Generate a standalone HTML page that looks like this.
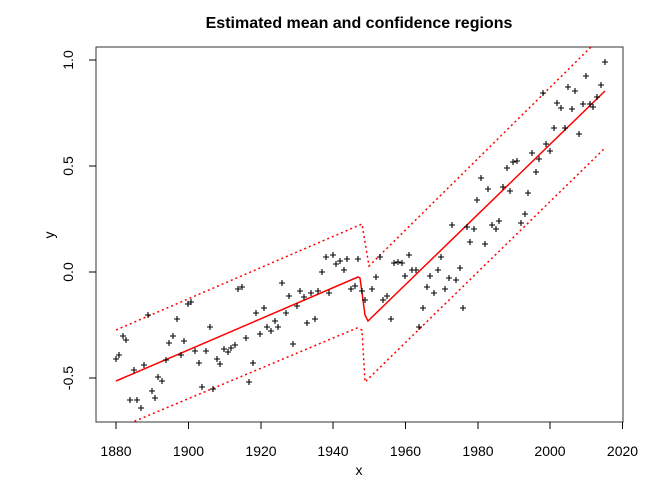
<!DOCTYPE html>
<html><head><style>body{margin:0;background:#fff}svg{display:block}</style></head><body>
<svg width="672" height="480" xmlns="http://www.w3.org/2000/svg" font-family="Liberation Sans, Arial, sans-serif">
<rect width="672" height="480" fill="#fff"/>
<text x="359" y="28" font-size="16" font-weight="bold" text-anchor="middle">Estimated mean and confidence regions</text>
<rect x="96" y="47" width="527" height="375" fill="none" stroke="#333" stroke-width="1"/>
<g stroke="#000" stroke-width="1">
<line x1="116" y1="422" x2="116" y2="429"/><line x1="188.5" y1="422" x2="188.5" y2="429"/><line x1="261" y1="422" x2="261" y2="429"/><line x1="333" y1="422" x2="333" y2="429"/><line x1="405.5" y1="422" x2="405.5" y2="429"/><line x1="478" y1="422" x2="478" y2="429"/><line x1="550" y1="422" x2="550" y2="429"/><line x1="622.5" y1="422" x2="622.5" y2="429"/>
<line x1="89" y1="60" x2="96" y2="60"/><line x1="89" y1="166" x2="96" y2="166"/><line x1="89" y1="272" x2="96" y2="272"/><line x1="89" y1="378" x2="96" y2="378"/>
</g>
<g font-size="14" text-anchor="middle">
<text x="116" y="456">1880</text><text x="188.5" y="456">1900</text><text x="261" y="456">1920</text><text x="333" y="456">1940</text><text x="405.5" y="456">1960</text><text x="478" y="456">1980</text><text x="550" y="456">2000</text><text x="622.5" y="456">2020</text>
<text x="359" y="475">x</text>
<text transform="translate(73,60) rotate(-90)">1.0</text>
<text transform="translate(73,166) rotate(-90)">0.5</text>
<text transform="translate(73,272) rotate(-90)">0.0</text>
<text transform="translate(73,378) rotate(-90)">-0.5</text>
<text transform="translate(54,235) rotate(-90)">y</text>
</g>
<defs><clipPath id="c"><rect x="96" y="47" width="527" height="375"/></clipPath></defs>
<g clip-path="url(#c)" fill="none" stroke="#f00" stroke-width="1.5">
<polyline points="116,381 358,277 360,278 363,300 365,315 368,321 605,91"/>
<polyline stroke-dasharray="2,3" points="116,330 362,224 369,266 590,48 605,33"/>
<polyline stroke-dasharray="2,3" points="116,429 357,328 362,330 365,382 605,148"/>
</g>
<path id="p" fill="none" stroke="#000" stroke-width="1.1" d="
M113,359h6M116,356v6 M116,355h6M119,352v6 M120,336h6M123,333v6 M123,340h6M126,337v6 M131,370h6M134,367v6 M127,400h6M130,397v6 M134,400h6M137,397v6 M138,408h6M141,405v6 M141,365h6M144,362v6 M145,315h6M148,312v6 M149,391h6M152,388v6 M152,398h6M155,395v6 M155,377h6M158,374v6 M159,381h6M162,378v6 M163,360h6M166,357v6 M166,343h6M169,340v6 M170,336h6M173,333v6 M174,319h6M177,316v6 M178,355h6M181,352v6 M181,341h6M184,338v6 M185,304h6M188,301v6 M188,302h6M191,299v6 M192,351h6M195,348v6 M196,363h6M199,360v6 M199,387h6M202,384v6 M203,351h6M206,348v6 M207,327h6M210,324v6 M210,389h6M213,386v6 M214,359h6M217,356v6 M217,364h6M220,361v6 M221,349h6M224,346v6 M225,352h6M228,349v6 M228,348h6M231,345v6 M232,345h6M235,342v6 M235,289h6M238,286v6 M239,287h6M242,284v6 M243,338h6M246,335v6 M246,382h6M249,379v6 M250,363h6M253,360v6 M253,313h6M256,310v6 M257,334h6M260,331v6 M261,308h6M264,305v6 M264,327h6M267,324v6 M268,331h6M271,328v6 M272,321h6M275,318v6 M275,327h6M278,324v6 M279,283h6M282,280v6 M283,313h6M286,310v6 M286,296h6M289,293v6 M290,344h6M293,341v6 M294,306h6M297,303v6 M297,291h6M300,288v6 M301,297h6M304,294v6 M304,323h6M307,320v6 M308,293h6M311,290v6 M312,319h6M315,316v6 M315,291h6M318,288v6 M319,272h6M322,269v6 M323,257h6M326,254v6 M326,293h6M329,290v6 M330,255h6M333,252v6 M333,264h6M336,261v6 M337,261h6M340,258v6 M341,270h6M344,267v6 M344,259h6M347,256v6 M348,289h6M351,286v6 M352,286h6M355,283v6 M355,259h6M358,256v6 M359,291h6M362,288v6 M362,300h6M365,297v6
M369,289h6M372,286v6 M373,277h6M376,274v6 M377,257h6M380,254v6 M380,300h6M383,297v6 M384,296h6M387,293v6 M388,319h6M391,316v6 M391,263h6M394,260v6 M395,262h6M398,259v6 M399,263h6M402,260v6 M402,276h6M405,273v6 M406,255h6M409,252v6 M409,270h6M412,267v6 M413,270h6M416,267v6 M416,327h6M419,324v6 M420,308h6M423,305v6 M424,287h6M427,284v6 M427,276h6M430,273v6 M431,293h6M434,290v6 M435,270h6M438,267v6 M438,257h6M441,254v6 M442,289h6M445,286v6 M446,278h6M449,275v6 M449,225h6M452,222v6 M453,280h6M456,277v6 M457,268h6M460,265v6 M460,308h6M463,305v6 M464,227h6M467,224v6 M467,242h6M470,239v6 M471,229h6M474,226v6 M474,200h6M477,197v6 M478,178h6M481,175v6 M482,244h6M485,241v6 M485,189h6M488,186v6 M489,225h6M492,222v6 M493,229h6M496,226v6 M496,221h6M499,218v6 M500,187h6M503,184v6 M504,168h6M507,165v6 M507,191h6M510,188v6 M510,162h6M513,159v6 M514,161h6M517,158v6 M518,223h6M521,220v6 M522,214h6M525,211v6 M525,193h6M528,190v6 M529,153h6M532,150v6 M533,172h6M536,169v6 M536,159h6M539,156v6 M540,93h6M543,90v6 M543,144h6M546,141v6 M547,151h6M550,148v6 M551,128h6M554,125v6 M554,103h6M557,100v6 M558,108h6M561,105v6 M562,128h6M565,125v6 M565,87h6M568,84v6 M569,109h6M572,106v6 M572,91h6M575,88v6 M576,134h6M579,131v6 M580,104h6M583,101v6 M583,76h6M586,73v6 M587,104h6M590,101v6 M590,107h6M593,104v6 M594,97h6M597,94v6 M598,85h6M601,82v6 M602,62h6M605,59v6"/>
</svg>
</body></html>
